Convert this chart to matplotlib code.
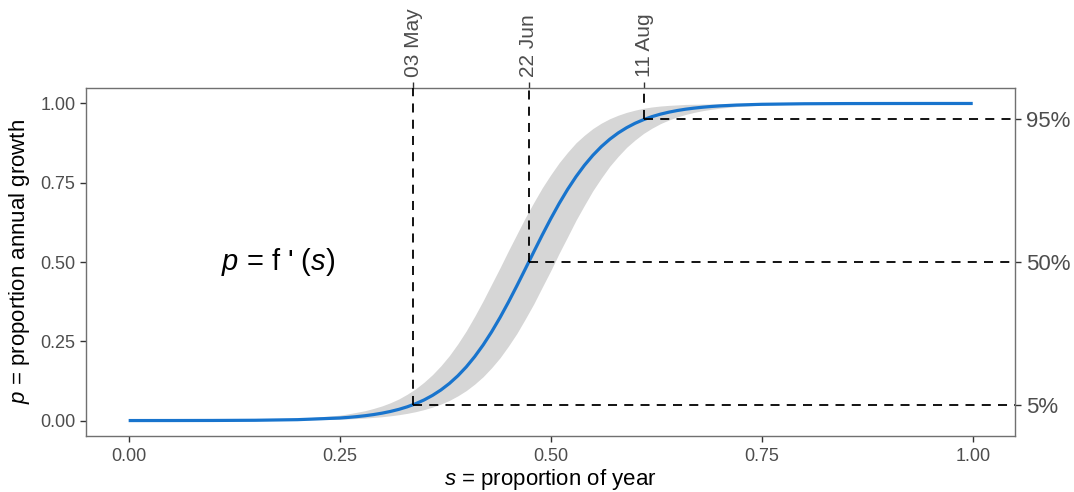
import matplotlib
matplotlib.use("Agg")
import matplotlib.pyplot as plt

# Proportion of year (s) and cumulative proportion of annual growth (p)
s_grid = [0.00, 0.05, 0.10, 0.15, 0.20, 0.25, 0.26, 0.27, 0.28, 0.29, 0.30,
          0.31, 0.32, 0.33, 0.34, 0.35, 0.36, 0.37, 0.38, 0.39, 0.40, 0.41,
          0.42, 0.43, 0.44, 0.45, 0.46, 0.47, 0.48, 0.49, 0.50, 0.51, 0.52,
          0.53, 0.54, 0.55, 0.56, 0.57, 0.58, 0.59, 0.60, 0.61, 0.62, 0.63,
          0.64, 0.65, 0.66, 0.67, 0.68, 0.69, 0.70, 0.72, 0.75, 0.80, 0.85,
          0.90, 0.95, 1.00]
p_mean = [0.0000, 0.0001, 0.0003, 0.0009, 0.0028, 0.0080, 0.0099, 0.0123,
          0.0152, 0.0188, 0.0232, 0.0286, 0.0352, 0.0433, 0.0531, 0.0650,
          0.0794, 0.0966, 0.1170, 0.1411, 0.1692, 0.2017, 0.2385, 0.2797,
          0.3250, 0.3738, 0.4253, 0.4785, 0.5322, 0.5852, 0.6362, 0.6844,
          0.7289, 0.7692, 0.8052, 0.8367, 0.8640, 0.8873, 0.9071, 0.9237,
          0.9376, 0.9490, 0.9585, 0.9663, 0.9726, 0.9778, 0.9820, 0.9854,
          0.9882, 0.9905, 0.9923, 0.9950, 0.9974, 0.9991, 0.9997, 0.9999,
          1.0000, 1.0000]
p_upper = [0.0001, 0.0002, 0.0007, 0.0020, 0.0060, 0.0170, 0.0210, 0.0260,
           0.0310, 0.0380, 0.0460, 0.0560, 0.0680, 0.0830, 0.1000, 0.1210,
           0.1450, 0.1730, 0.2050, 0.2420, 0.2830, 0.3290, 0.3780, 0.4300,
           0.4820, 0.5360, 0.5880, 0.6400, 0.6880, 0.7340, 0.7750, 0.8130,
           0.8460, 0.8760, 0.9000, 0.9210, 0.9380, 0.9520, 0.9630, 0.9720,
           0.9790, 0.9850, 0.9890, 0.9920, 0.9940, 0.9955, 0.9970, 0.9975,
           0.9980, 0.9985, 0.9990, 0.9995, 1.0000, 1.0000, 1.0000, 1.0000,
           1.0000, 1.0000]
p_lower = [0.0000, 0.0001, 0.0002, 0.0005, 0.0014, 0.0041, 0.0051, 0.0064,
           0.0078, 0.0098, 0.0120, 0.0149, 0.0184, 0.0227, 0.0280, 0.0346,
           0.0424, 0.0521, 0.0636, 0.0779, 0.0946, 0.1150, 0.1384, 0.1665,
           0.1980, 0.2350, 0.2750, 0.3208, 0.3682, 0.4207, 0.4725, 0.5275,
           0.5793, 0.6318, 0.6792, 0.7251, 0.7650, 0.8022, 0.8335, 0.8618,
           0.8850, 0.9055, 0.9221, 0.9364, 0.9479, 0.9576, 0.9654, 0.9720,
           0.9773, 0.9816, 0.9851, 0.9903, 0.9949, 0.9982, 0.9994, 0.9998,
           0.9999, 1.0000]

# Growth quantiles and the dates at which they are reached
quantile_p = [0.05, 0.50, 0.95]
quantile_s = [0.337, 0.474, 0.611]
quantile_labels = ["5%", "50%", "95%"]
date_labels = ["03 May", "22 Jun", "11 Aug"]

x_ticks = [0.00, 0.25, 0.50, 0.75, 1.00]
y_ticks = [0.00, 0.25, 0.50, 0.75, 1.00]
x_limits = (-0.05, 1.05)
y_limits = (-0.05, 1.05)

plt.rcParams["font.family"] = ["Liberation Sans", "DejaVu Sans"]
plt.rcParams["mathtext.fontset"] = "custom"
plt.rcParams["mathtext.rm"] = "Liberation Sans"
plt.rcParams["mathtext.it"] = "Liberation Sans:italic"
plt.rcParams["mathtext.bf"] = "Liberation Sans:bold"

tick_grey = "#4D4D4D"
border_grey = "#707070"
line_blue = "#1874CD"
band_grey = "#D6D6D6"

fig = plt.figure(figsize=(10.74, 4.92), dpi=100)
ax = fig.add_axes([0.0805, 0.1130, 0.8645, 0.7089])

ax.fill_between(s_grid, p_lower, p_upper, color=band_grey, lw=0, zorder=1)
ax.plot(s_grid, p_mean, color=line_blue, lw=2.3, solid_capstyle="butt",
        solid_joinstyle="round", zorder=3)

ax.set_xlim(*x_limits)
ax.set_ylim(*y_limits)

# Dashed guides from each quantile point to the top and right borders
for s_val, p_val in zip(quantile_s, quantile_p):
    ax.plot([s_val, s_val], [p_val, y_limits[1]], color="black", lw=1.3,
            dashes=(5, 4), zorder=4, clip_on=False)
    ax.plot([s_val, x_limits[1]], [p_val, p_val], color="black", lw=1.3,
            dashes=(5, 4), zorder=4, clip_on=False)

ax.text(0.177, 0.5, "$p$ = f ' ($s$)", fontsize=21, color="black",
        ha="center", va="center")

for side in ["left", "right", "top", "bottom"]:
    ax.spines[side].set_color(border_grey)
    ax.spines[side].set_linewidth(1.0)

ax.set_xticks(x_ticks, labels=[f"{v:.2f}" for v in x_ticks])
ax.set_yticks(y_ticks, labels=[f"{v:.2f}" for v in y_ticks])
ax.tick_params(axis="both", length=4, width=1.0, color="#333333",
               labelcolor=tick_grey, labelsize=13, pad=4)

ax.set_xlabel("$s$ = proportion of year", fontsize=16, color="black", labelpad=2)
ax.set_ylabel("$p$ = proportion annual growth", fontsize=16, color="black",
              labelpad=6)

top = ax.secondary_xaxis("top")
top.set_xticks(quantile_s, labels=date_labels)
top.tick_params(axis="x", length=4, width=1.0, color="#333333",
                labelcolor=tick_grey, labelsize=15, pad=4, labelrotation=90)
for sp in top.spines.values():
    sp.set_visible(False)

right = ax.secondary_yaxis("right")
right.set_yticks(quantile_p, labels=quantile_labels)
right.tick_params(axis="y", length=4, width=1.0, color="#333333",
                  labelcolor=tick_grey, labelsize=16, pad=4)
for sp in right.spines.values():
    sp.set_visible(False)

fig.savefig("out.png", dpi=100, facecolor="white")
